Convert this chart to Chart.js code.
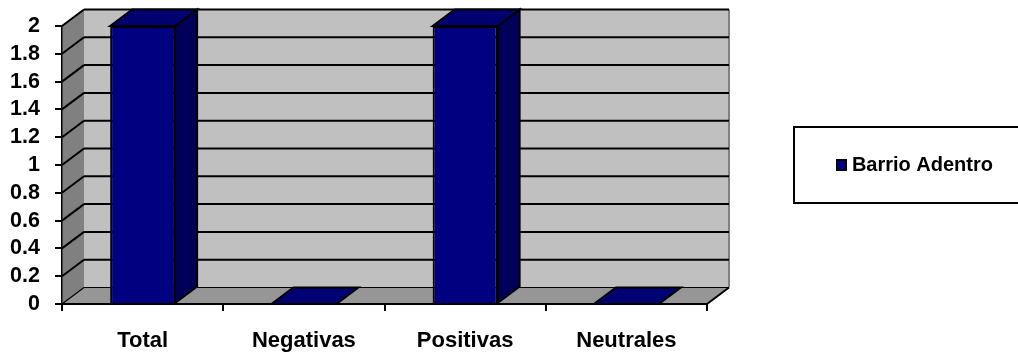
<!DOCTYPE html>
<html>
<head>
<meta charset="utf-8">
<title>Barrio Adentro</title>
<script src="https://cdn.jsdelivr.net/npm/chart.js@4/dist/chart.umd.min.js"></script>
<style>
    html, body { margin: 0; padding: 0; background: #fff; }
    #chart { display: block; }
</style>
</head>
<body>
<canvas id="chart" width="1018" height="354"></canvas>
<script>
var categories = ['Total', 'Negativas', 'Positivas', 'Neutrales'];
var seriesName = 'Barrio Adentro';
var seriesValues = [2, 0, 2, 0];
var yTicks = [0, 0.2, 0.4, 0.6, 0.8, 1, 1.2, 1.4, 1.6, 1.8, 2];

// depth of the fake 3d box, in pixels
var DX = 22;
var DY = 16.5;
var FAMILY = '"Liberation Sans", Arial, sans-serif';

function poly(ctx, pts, fill, stroke, lw) {
    ctx.beginPath();
    ctx.moveTo(pts[0][0], pts[0][1]);
    for (var i = 1; i < pts.length; i++) { ctx.lineTo(pts[i][0], pts[i][1]); }
    ctx.closePath();
    if (fill) { ctx.fillStyle = fill; ctx.fill(); }
    if (stroke) { ctx.strokeStyle = stroke; ctx.lineWidth = lw; ctx.stroke(); }
}

function line(ctx, x1, y1, x2, y2, color, lw) {
    ctx.beginPath();
    ctx.moveTo(x1, y1);
    ctx.lineTo(x2, y2);
    ctx.strokeStyle = color;
    ctx.lineWidth = lw;
    ctx.stroke();
}

var box3d = {
    id: 'box3d',
    beforeLayout: function (chart) {
        // legend takes the whole strip right of the plot, gets moved after layout
        var lg = chart.legend;
        if (!lg.fitWrapped) {
            var fit = lg.fit;
            lg.fit = function () { fit.call(this); this.width = 311; };
            lg.fitWrapped = true;
        }
    },
    afterLayout: function (chart) {
        var lg = chart.legend;
        lg.left = 836;
        lg.right = 993;
        lg.top = 127;
        lg.bottom = 203;
        lg.width = lg.right - lg.left;
        lg.height = lg.bottom - lg.top;
    },
    beforeDraw: function (chart) {
        var ctx = chart.ctx;
        var a = chart.chartArea;
        var y = chart.scales.y;
        ctx.save();
        poly(ctx, [[a.left + DX, a.top - DY], [a.right + DX, a.top - DY], [a.right + DX, a.bottom - DY], [a.left + DX, a.bottom - DY]], '#c0c0c0');
        poly(ctx, [[a.left, a.top], [a.left + DX, a.top - DY], [a.left + DX, a.bottom - DY], [a.left, a.bottom]], '#808080');
        poly(ctx, [[a.left, a.bottom], [a.left + DX, a.bottom - DY], [a.right + DX, a.bottom - DY], [a.right, a.bottom]], '#969696');
        line(ctx, a.right + DX, a.top - DY, a.right + DX, a.bottom - DY, '#808080', 2);
        yTicks.forEach(function (v) {
            var py = y.getPixelForValue(v);
            var lw = v === 0 ? 1.2 : 2;
            line(ctx, a.left, py, a.left + DX, py - DY, '#000', lw);
            line(ctx, a.left + DX, py - DY, a.right + DX, py - DY, '#000', lw);
        });
        line(ctx, a.right, a.bottom, a.right + DX, a.bottom - DY, '#000', 2);
        ctx.restore();
    },
    afterDatasetsDraw: function (chart) {
        var ctx = chart.ctx;
        ctx.save();
        chart.getDatasetMeta(0).data.forEach(function (bar, i) {
            var l = bar.x - bar.width / 2;
            var r = bar.x + bar.width / 2;
            if (seriesValues[i] > 0) {
                poly(ctx, [[r, bar.y], [r + DX, bar.y - DY], [r + DX, bar.base - DY], [r, bar.base]], '#00005a', '#000', 2);
            }
            poly(ctx, [[l, bar.y], [l + DX, bar.y - DY], [r + DX, bar.y - DY], [r, bar.y]], '#000070', '#000', 2);
        });
        ctx.restore();
    }
};

// legend frame runs off the right edge of the picture
var legendFrame = {
    id: 'legendFrame',
    afterDraw: function (chart) {
        var ctx = chart.ctx;
        ctx.save();
        ctx.strokeStyle = '#000';
        ctx.lineWidth = 2;
        ctx.strokeRect(794, 127, 240, 76);
        ctx.restore();
    }
};

var chart = new Chart(document.getElementById('chart'), {
    type: 'bar',
    data: {
        labels: categories,
        datasets: [{
            label: seriesName,
            data: seriesValues,
            backgroundColor: '#000080',
            borderColor: '#000',
            borderWidth: 2,
            barPercentage: 0.403,
            categoryPercentage: 1
        }]
    },
    options: {
        responsive: false,
        animation: false,
        layout: { padding: { top: 26 } },
        plugins: {
            tooltip: { enabled: false },
            legend: {
                position: 'right',
                labels: {
                    padding: 0,
                    boxWidth: 10,
                    boxHeight: 10,
                    color: '#000',
                    textAlign: 'right',
                    font: { family: FAMILY, size: 20, weight: 'bold' }
                }
            }
        },
        scales: {
            x: {
                afterFit: function (scale) { scale.height = 50; },
                grid: { drawOnChartArea: false, drawTicks: true, tickLength: 7, color: '#000', lineWidth: 2 },
                border: { display: true, color: '#000', width: 2 },
                ticks: { color: '#000', font: { family: FAMILY, size: 22, weight: 'bold' }, padding: 17, maxRotation: 0 }
            },
            y: {
                min: 0,
                max: 2,
                afterFit: function (scale) {
                    scale.width = 62;
                    // label overhang would otherwise push the plot top down
                    scale.paddingTop = 0;
                    scale.paddingBottom = 0;
                },
                afterBuildTicks: function (scale) {
                    scale.ticks = yTicks.map(function (v) { return { value: v }; });
                },
                grid: { drawOnChartArea: false, drawTicks: true, tickLength: 7, color: '#000', lineWidth: 2 },
                border: { display: true, color: '#000', width: 1.5 },
                ticks: {
                    color: '#000',
                    font: { family: FAMILY, size: 21.5, weight: 'bold' },
                    padding: 15,
                    autoSkip: false,
                    callback: function (value) { return String(value); }
                }
            }
        }
    },
    plugins: [box3d, legendFrame]
});
</script>
</body>
</html>
